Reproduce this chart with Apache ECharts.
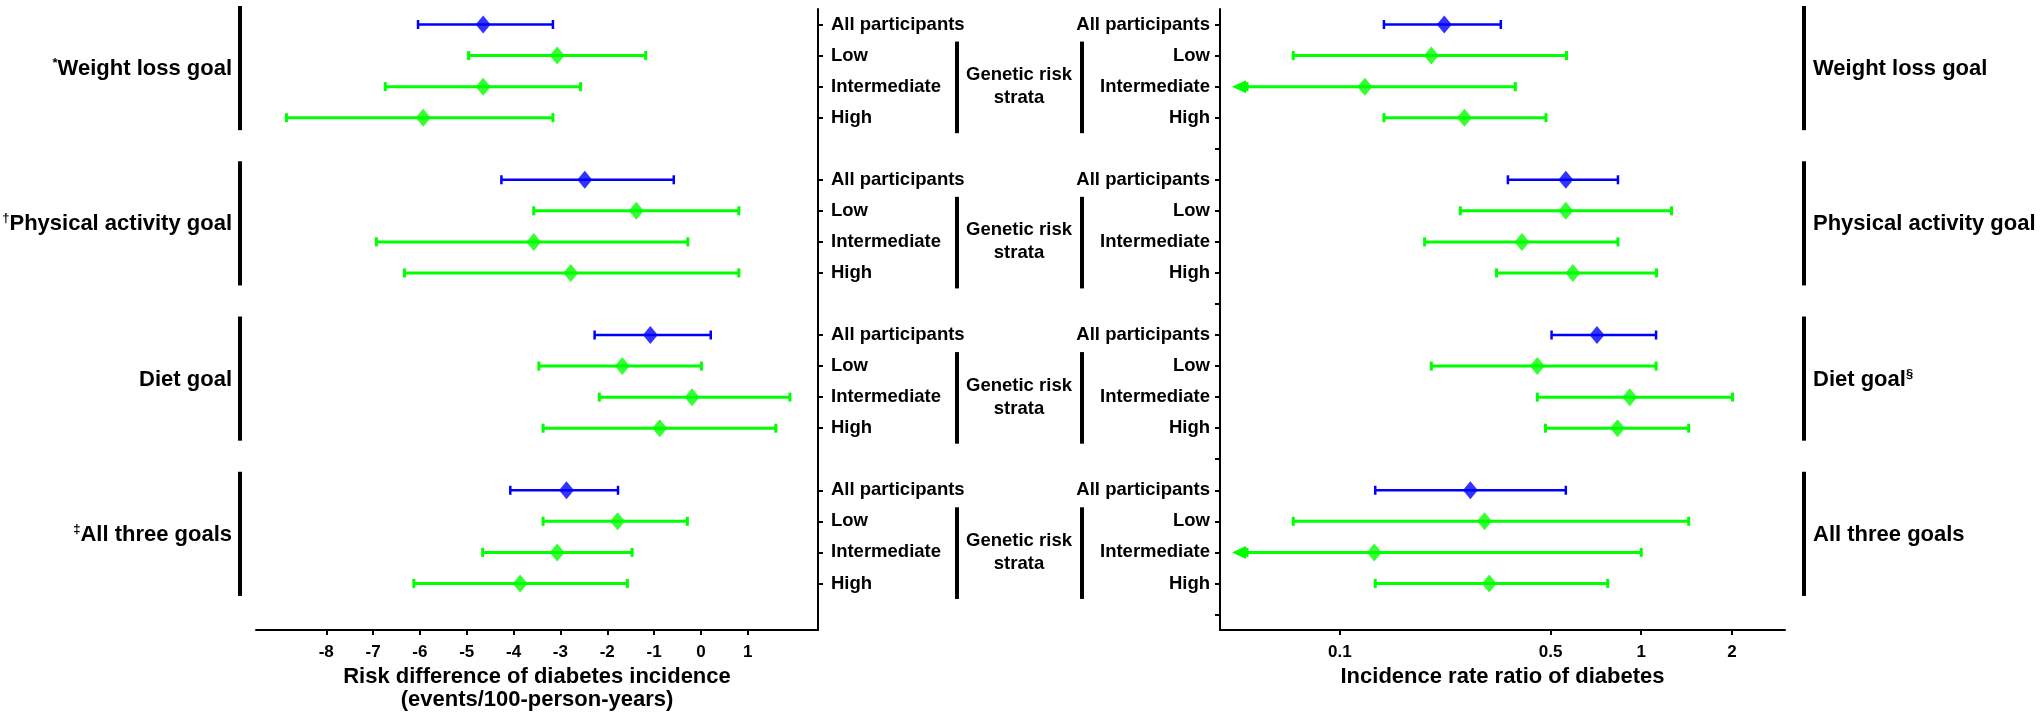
<!DOCTYPE html>
<html>
<head>
<meta charset="utf-8">
<script src="https://cdn.jsdelivr.net/npm/echarts@6/dist/echarts.min.js"></script>
<style>
  html, body { margin: 0; padding: 0; background: #fff; }
  #chart { width: 2040px; height: 725px; }
</style>
</head>
<body>
<div id="chart"></div>
<script>
var goals = ['Weight loss goal', 'Physical activity goal', 'Diet goal', 'All three goals']
var leftMarks = ['*', '\u2020', '', '\u2021']
var rightMarks = ['', '', '\u00a7', '']
var strata = ['All participants', 'Low', 'Intermediate', 'High']

// risk difference (events/100-person-years), goal by goal, strata in order above
var rdPoint = [-4.65, -3.07, -4.65, -5.93, -2.48, -1.38, -3.57, -2.78, -1.08, -1.68, -0.19, -0.88, -2.87, -1.78, -3.07, -3.86]
var rdLower = [-6.04, -4.96, -6.74, -8.85, -4.26, -3.57, -6.93, -6.33, -2.27, -3.46, -2.17, -3.37, -4.07, -3.37, -4.66, -6.13]
var rdUpper = [-3.16, -1.18, -2.57, -3.16, -0.58, 0.81, -0.28, 0.81, 0.21, 0.01, 1.90, 1.60, -1.77, -0.29, -1.47, -1.57]
var rdTicks = [-8, -7, -6, -5, -4, -3, -2, -1, 0, 1]

// incidence rate ratio
var irrPoint = [0.222, 0.201, 0.121, 0.259, 0.562, 0.562, 0.402, 0.593, 0.713, 0.452, 0.916, 0.834, 0.271, 0.302, 0.130, 0.313]
var irrLower = [0.140, 0.070, 0.030, 0.140, 0.361, 0.251, 0.191, 0.331, 0.504, 0.201, 0.452, 0.481, 0.131, 0.070, 0.030, 0.131]
var irrUpper = [0.342, 0.565, 0.382, 0.483, 0.837, 1.26, 0.837, 1.124, 1.12, 1.12, 2.01, 1.437, 0.562, 1.437, 1.0, 0.774]
var irrTicks = [0.1, 0.5, 1, 2]

var BLUE = '#0000ff'
var GREEN = '#00ff00'
var FONT = '"Liberation Sans", Arial, sans-serif'

// 5 rows per goal: 4 strata and one empty spacer row
var rows = []
goals.forEach(function () {
  strata.forEach(function (s) { rows.push(s) })
  rows.push('')
})

function rowOf(k) {
  return Math.floor(k / 4) * 5 + (k % 4)
}

function barData(lower, upper) {
  return lower.map(function (lo, k) {
    return [lo, rowOf(k), upper[k], k % 4]
  })
}

function pointData(point) {
  return point.map(function (v, k) {
    return { value: [v, rowOf(k)], itemStyle: { color: k % 4 === 0 ? BLUE : GREEN } }
  })
}

function renderBar(params, api) {
  var lo = api.value(0)
  var row = api.value(1)
  var hi = api.value(2)
  var color = api.value(3) === 0 ? BLUE : GREEN
  var lw = api.value(3) === 0 ? 2.5 : 3
  var pHi = api.coord([hi, row])
  var y = pHi[1]
  var xHi = pHi[0]
  var xLo = api.coord([lo, row])[0]
  var left = params.coordSys.x
  var style = { stroke: color, lineWidth: lw }
  var children = []
  if (xLo < left) {
    // lower limit off the axis: arrow
    var tip = left + 12
    children.push({
      type: 'polygon',
      shape: { points: [[tip, y], [tip + 14, y - 6.5], [tip + 14, y + 6.5]] },
      style: { fill: color }
    })
    xLo = tip + 15
  }
  children.push({ type: 'line', shape: { x1: xLo, y1: y, x2: xHi, y2: y }, style: style })
  children.push({ type: 'line', shape: { x1: xLo, y1: y - 4.5, x2: xLo, y2: y + 4.5 }, style: style })
  children.push({ type: 'line', shape: { x1: xHi, y1: y - 4.5, x2: xHi, y2: y + 4.5 }, style: style })
  return { type: 'group', children: children }
}

var axisLineStyle = { color: '#000', width: 2 }
var labelText = { color: '#000', fontWeight: 'bold', fontFamily: FONT }

var chart = echarts.init(document.getElementById('chart'))
chart.setOption({
  animation: false,
  backgroundColor: '#fff',
  grid: [
    { left: 256, right: 1222, top: 9, bottom: 95 },
    { left: 1220, right: 255, top: 9, bottom: 95 }
  ],
  xAxis: [{
    gridIndex: 0,
    type: 'value',
    min: -9.5,
    max: 2.5,
    splitLine: { show: false },
    axisLine: { show: true, onZero: false, lineStyle: axisLineStyle },
    axisTick: { show: true, customValues: rdTicks, length: 5, lineStyle: axisLineStyle },
    axisLabel: Object.assign({ customValues: rdTicks, fontSize: 17, margin: 14 }, labelText),
    name: 'Risk difference of diabetes incidence\n(events/100-person-years)',
    nameLocation: 'middle',
    nameGap: 30,
    nameTextStyle: Object.assign({ fontSize: 22, lineHeight: 23 }, labelText)
  }, {
    gridIndex: 1,
    type: 'log',
    logBase: 10,
    min: 0.04,
    max: 3,
    splitLine: { show: false },
    axisLine: { show: true, onZero: false, lineStyle: axisLineStyle },
    axisTick: { show: true, customValues: irrTicks, length: 5, lineStyle: axisLineStyle },
    axisLabel: Object.assign({ customValues: irrTicks, fontSize: 17, margin: 14 }, labelText),
    name: 'Incidence rate ratio of diabetes',
    nameLocation: 'middle',
    nameGap: 35,
    nameTextStyle: Object.assign({ fontSize: 22, lineHeight: 23 }, labelText)
  }],
  yAxis: [{
    gridIndex: 0,
    type: 'category',
    data: rows,
    inverse: true,
    position: 'right',
    axisLine: { show: true, onZero: false, lineStyle: axisLineStyle },
    axisTick: {
      show: true,
      alignWithLabel: true,
      interval: function (i, v) { return v !== '' },
      length: 5,
      lineStyle: axisLineStyle
    },
    axisLabel: Object.assign({ interval: 0, fontSize: 18.5, margin: 13 }, labelText)
  }, {
    gridIndex: 1,
    type: 'category',
    data: rows,
    inverse: true,
    position: 'left',
    axisLine: { show: true, onZero: false, lineStyle: axisLineStyle },
    axisTick: { show: true, alignWithLabel: true, interval: 0, length: 5, lineStyle: axisLineStyle },
    axisLabel: Object.assign({ interval: 0, fontSize: 18.5, margin: 10 }, labelText)
  }],
  series: [{
    type: 'custom',
    xAxisIndex: 0,
    yAxisIndex: 0,
    renderItem: renderBar,
    encode: { x: [0, 2], y: 1 },
    data: barData(rdLower, rdUpper),
    z: 2
  }, {
    type: 'scatter',
    xAxisIndex: 0,
    yAxisIndex: 0,
    symbol: 'diamond',
    symbolSize: [15, 18],
    data: pointData(rdPoint),
    z: 3
  }, {
    type: 'custom',
    xAxisIndex: 1,
    yAxisIndex: 1,
    renderItem: renderBar,
    encode: { x: [0, 2], y: 1 },
    data: barData(irrLower, irrUpper),
    z: 2
  }, {
    type: 'scatter',
    xAxisIndex: 1,
    yAxisIndex: 1,
    symbol: 'diamond',
    symbolSize: [15, 18],
    data: pointData(irrPoint),
    z: 3
  }]
})

// group brackets and labels, placed from the axes
var leftStart = chart.convertToPixel({ xAxisIndex: 0 }, -9.5)
var leftEnd = chart.convertToPixel({ xAxisIndex: 0 }, 2.5)
var rightStart = chart.convertToPixel({ xAxisIndex: 1 }, 0.04)
var rightEnd = chart.convertToPixel({ xAxisIndex: 1 }, 3)
var midX = (leftEnd + rightStart) / 2
var rich = {
  sup: { fontSize: 13, fontWeight: 'bold', fontFamily: FONT, verticalAlign: 'top', lineHeight: 24 },
  b: { fontSize: 22, fontWeight: 'bold', fontFamily: FONT, lineHeight: 24 }
}
var graphics = []
function bar(x, y1, y2) {
  graphics.push({ type: 'line', shape: { x1: x, y1: y1, x2: x, y2: y2 }, style: { stroke: '#000', lineWidth: 4 }, silent: true })
}
goals.forEach(function (goal, g) {
  var yAll = chart.convertToPixel({ yAxisIndex: 0 }, g * 5)
  var yLow = chart.convertToPixel({ yAxisIndex: 0 }, g * 5 + 1)
  var yInt = chart.convertToPixel({ yAxisIndex: 0 }, g * 5 + 2)
  var yHigh = chart.convertToPixel({ yAxisIndex: 0 }, g * 5 + 3)
  var yMid = (yLow + yInt) / 2 - 2
  bar(leftStart - 16, yAll - 18.5, yHigh + 12.5)
  bar(rightEnd + 19, yAll - 18.5, yHigh + 12.5)
  bar(midX - 62, yLow - 14, yHigh + 15.5)
  bar(midX + 63, yLow - 14, yHigh + 15.5)
  graphics.push({
    type: 'text',
    x: leftStart - 24,
    y: yMid,
    style: {
      text: (leftMarks[g] ? '{sup|' + leftMarks[g] + '}' : '') + '{b|' + goal + '}',
      rich: rich,
      fill: '#000',
      align: 'right',
      verticalAlign: 'middle'
    }
  })
  graphics.push({
    type: 'text',
    x: rightEnd + 28,
    y: yMid,
    style: {
      text: '{b|' + goal + '}' + (rightMarks[g] ? '{sup|' + rightMarks[g] + '}' : ''),
      rich: rich,
      fill: '#000',
      align: 'left',
      verticalAlign: 'middle'
    }
  })
  graphics.push({
    type: 'text',
    x: midX,
    y: yInt,
    style: {
      text: 'Genetic risk\nstrata',
      font: 'bold 18.5px ' + FONT,
      lineHeight: 23,
      fill: '#000',
      align: 'center',
      verticalAlign: 'middle'
    }
  })
})
chart.setOption({ graphic: graphics })
</script>
</body>
</html>
